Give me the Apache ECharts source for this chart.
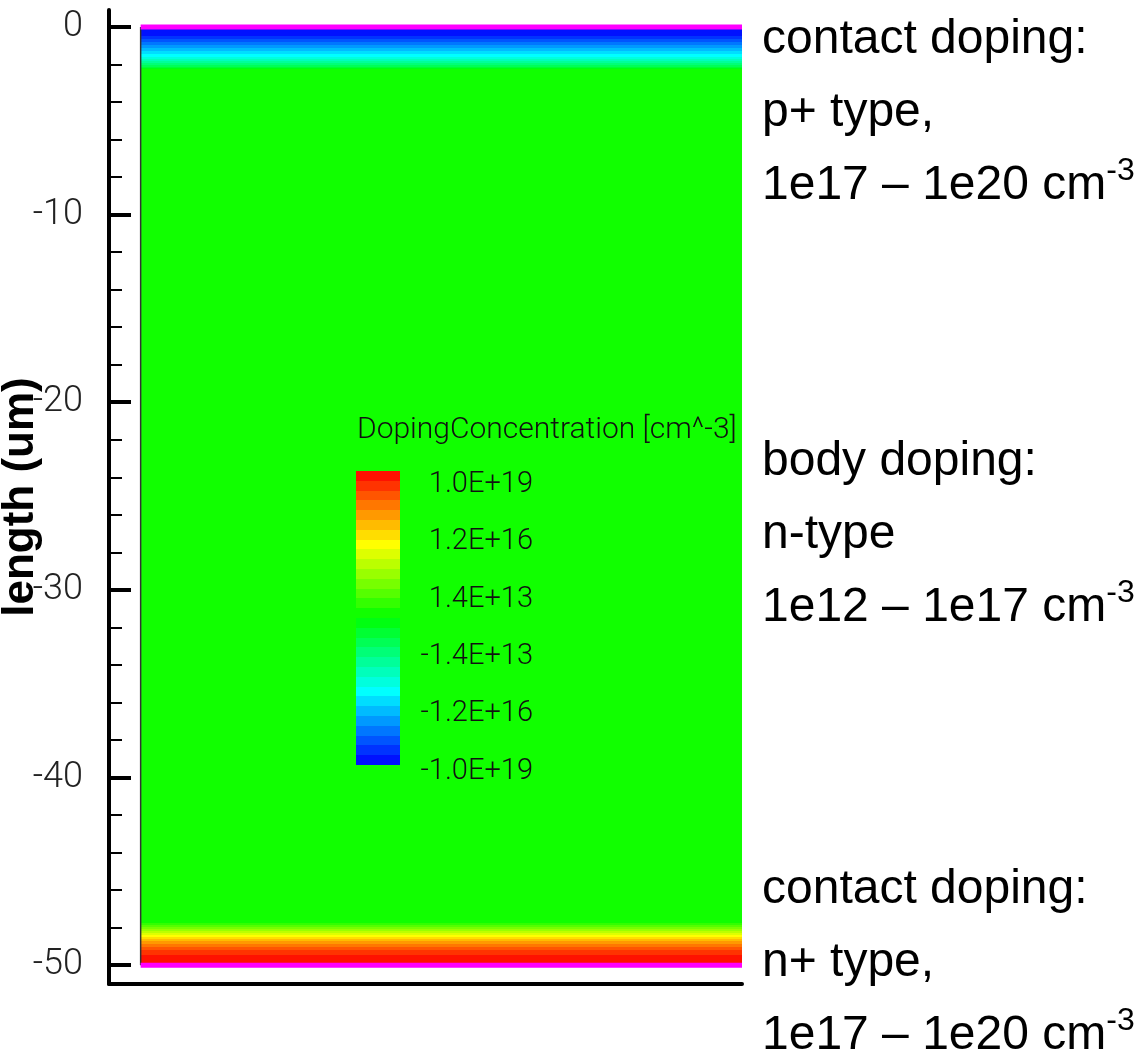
<!DOCTYPE html>
<html>
<head>
<meta charset="utf-8">
<title>Doping concentration</title>
<script src="https://cdn.jsdelivr.net/npm/echarts@6/dist/echarts.min.js"></script>
<style>
html, body {margin: 0; padding: 0; background: #fff;}
#container {width: 1147px; height: 1056px;}
</style>
</head>
<body>
<div id="container"></div>
<script>
// depth axis (um)
var yTicks = [0, -10, -20, -30, -40, -50];
var yMinorTicks = [-2, -4, -6, -8, -12, -14, -16, -18, -22, -24, -26, -28,
                   -32, -34, -36, -38, -42, -44, -46, -48];

// device width and contact positions (um)
var deviceX = [0, 19];
var contactDepth = [0, -50];

// doping profile: layer edges (um) and net doping of each layer (cm^-3, negative = p-type)
var layerEdges = [0, -0.48, -0.64, -0.80, -0.96, -1.12, -1.28, -1.44, -1.60, -1.71,
                  -1.81, -1.92, -2.03, -2.13, -2.19, -2.24,
                  -47.76, -47.87, -47.97, -48.08, -48.19, -48.29, -48.40, -48.51,
                  -48.61, -48.72, -48.88, -49.04, -49.20, -49.47, -50];
var layerDoping = [-8.7e18, -2.8e18, -8.7e17, -2.8e17, -8.7e16, -2.8e16, -8.7e15, -2.8e15,
                   -8.7e14, -2.8e14, -8.7e13, -2.8e13, -8.7e12, -2.8e12, -8.7e11,
                   1e12,
                   2.8e12, 8.7e12, 2.8e13, 8.7e13, 2.8e14, 8.7e14, 2.8e15, 8.7e15,
                   2.8e16, 8.7e16, 2.8e17, 8.7e17, 2.8e18, 8.7e18];

// contour legend levels and labels (cm^-3)
var legendLevels = [-8.7e18, -2.8e18, -8.7e17, -2.8e17, -8.7e16, -2.8e16, -8.7e15, -2.8e15,
                    -8.7e14, -2.8e14, -8.7e13, -2.8e13, -8.7e12, -2.8e12, -8.7e11,
                    8.7e11, 2.8e12, 8.7e12, 2.8e13, 8.7e13, 2.8e14, 8.7e14, 2.8e15,
                    8.7e15, 2.8e16, 8.7e16, 2.8e17, 8.7e17, 2.8e18, 8.7e18];
var legendTicks = [1.0e19, 1.2e16, 1.4e13, -1.4e13, -1.2e16, -1.0e19];
var legendTitle = 'DopingConcentration [cm^-3]';

// notes on the right
var noteTitles = ['contact doping:', 'body doping:', 'contact doping:'];
var noteTypes = ['p+ type,', 'n-type', 'n+ type,'];
var noteRanges = ['1e17 \u2013 1e20', '1e12 \u2013 1e17', '1e17 \u2013 1e20'];

var dom = document.getElementById('container');
var myChart = echarts.init(dom);

// signed log scale used by the contour legend
var LOG0 = 11.68, STEP = 0.5;
function signedLog(n) {
    var s = Math.max(0, Math.log10(Math.abs(n)) - LOG0);
    return n < 0 ? -s : s;
}
function toLevel(n) {   // flood bands
    return (Math.floor(signedLog(n) / STEP) + 0.5) * STEP;
}

var layerData = [];
for (var i = 0; i < layerDoping.length; i++) {
    layerData.push([layerEdges[i], layerEdges[i + 1], toLevel(layerDoping[i])]);
}
var legendData = legendLevels.map(function (d) {
    var lv = toLevel(d);
    return [lv + STEP / 2, lv - STEP / 2, lv];
});
var legendTickValues = legendTicks.map(signedLog);

function renderLayer(params, api) {
    var p0 = api.coord([deviceX[0], api.value(0)]);
    var p1 = api.coord([deviceX[1], api.value(1)]);
    var y0 = Math.round(p0[1]), y1 = Math.round(p1[1]);
    return {
        type: 'rect',
        shape: {x: p0[0], y: y0, width: p1[0] - p0[0], height: y1 - y0},
        style: {fill: api.visual('color')}
    };
}
function renderLegend(params, api) {
    var cs = params.coordSys;
    var y0 = Math.round(api.coord([0, api.value(0)])[1]);
    var y1 = Math.round(api.coord([0, api.value(1)])[1]);
    return {
        type: 'rect',
        shape: {x: cs.x, y: y0, width: cs.width, height: y1 - y0},
        style: {fill: api.visual('color')}
    };
}

var thinFont = 'Roboto';
var noteFont = '"Liberation Sans", Arial, sans-serif';

var graphics = [{
    type: 'text', x: 357, y: 430, z: 100,
    style: {text: legendTitle, fontFamily: thinFont, fontWeight: 300, fontSize: 30,
            fill: '#111', align: 'left', verticalAlign: 'middle'}
}];
var noteTop = [40, 462, 890];
for (var k = 0; k < noteTitles.length; k++) {
    graphics.push({
        type: 'text', x: 762, y: noteTop[k], z: 100,
        style: {text: noteTitles[k], fontFamily: noteFont, fontSize: 48, fill: '#000',
                align: 'left', verticalAlign: 'middle'}
    });
    graphics.push({
        type: 'text', x: 762, y: noteTop[k] + 73, z: 100,
        style: {text: noteTypes[k], fontFamily: noteFont, fontSize: 48, fill: '#000',
                align: 'left', verticalAlign: 'middle'}
    });
    graphics.push({
        type: 'text', x: 762, y: noteTop[k] + 146, z: 100,
        style: {
            text: '{m|' + noteRanges[k] + ' cm}{s|-3}',
            align: 'left', verticalAlign: 'middle',
            rich: {
                m: {fontFamily: noteFont, fontSize: 48, lineHeight: 62, fill: '#000'},
                s: {fontFamily: noteFont, fontSize: 32, lineHeight: 32, verticalAlign: 'top', fill: '#000'}
            }
        }
    });
}

var option = {
    animation: false,
    backgroundColor: '#fff',
    grid: [
        {left: 109, top: 10, width: 633, height: 974, outerBoundsMode: 'none', containLabel: false},
        {left: 356, top: 471, width: 44, height: 294, outerBoundsMode: 'none', containLabel: false}
    ],
    xAxis: [
        {
            type: 'value', gridIndex: 0, min: -1, max: 19,
            axisLine: {show: true, onZero: false, lineStyle: {color: '#000', width: 4}},
            axisTick: {show: false}, axisLabel: {show: false}, splitLine: {show: false}
        },
        {type: 'value', gridIndex: 1, min: 0, max: 1, show: false}
    ],
    yAxis: [
        {
            type: 'value', gridIndex: 0, min: -51, max: 0.9, position: 'left',
            name: 'length (um)', nameLocation: 'middle', nameGap: 66, nameMoveOverlap: false,
            nameTextStyle: {fontFamily: noteFont, fontWeight: 'bold', fontSize: 44, color: '#000'},
            axisLine: {show: true, onZero: false, lineStyle: {color: '#000', width: 4}},
            axisTick: {show: true, inside: true, length: 22, customValues: yTicks,
                       lineStyle: {color: '#000', width: 4}},
            axisLabel: {show: true, customValues: yTicks, margin: 26, fontFamily: thinFont,
                        fontWeight: 300, fontSize: 36, color: '#222'},
            splitLine: {show: false}
        },
        {
            type: 'value', gridIndex: 0, min: -51, max: 0.9, position: 'left',
            axisLine: {show: false, onZero: false},
            axisTick: {show: true, inside: true, length: 13, customValues: yMinorTicks,
                       lineStyle: {color: '#000', width: 2}},
            axisLabel: {show: false}, splitLine: {show: false}
        },
        {
            type: 'value', gridIndex: 1, min: -7.5, max: 7.5, position: 'right', z: 10,
            axisLine: {show: false}, axisTick: {show: false}, splitLine: {show: false},
            axisLabel: {
                show: true, customValues: legendTickValues, align: 'right', margin: 133,
                verticalAlign: 'top', lineHeight: 20,
                fontFamily: thinFont, fontWeight: 300, fontSize: 29, color: '#111',
                formatter: function (v) {
                    var best = 0;
                    for (var j = 1; j < legendTickValues.length; j++) {
                        if (Math.abs(legendTickValues[j] - v) < Math.abs(legendTickValues[best] - v)) best = j;
                    }
                    return legendTicks[best].toExponential(1).toUpperCase();
                }
            }
        }
    ],
    visualMap: {
        type: 'continuous', show: false, seriesIndex: [0, 1], dimension: 2,
        min: -7.5, max: 7.5,
        inRange: {color: ['#0000ff', '#00ffff', '#00ff00', '#ffff00', '#ff0000']}
    },
    series: [
        {
            type: 'custom', name: 'doping', xAxisIndex: 0, yAxisIndex: 0,
            renderItem: renderLayer, data: layerData, silent: true
        },
        {
            type: 'custom', name: 'legend', xAxisIndex: 1, yAxisIndex: 2,
            renderItem: renderLegend, data: legendData, silent: true, z: 3
        },
        {
            type: 'line', xAxisIndex: 0, yAxisIndex: 0, symbol: 'none', silent: true,
            lineStyle: {color: '#333', width: 1.5},
            data: [[deviceX[0], contactDepth[0]], [deviceX[0], contactDepth[1]]]
        },
        {
            type: 'line', xAxisIndex: 0, yAxisIndex: 0, symbol: 'none', silent: true,
            lineStyle: {color: '#ff00ff', width: 5},
            data: [[deviceX[0], contactDepth[0]], [deviceX[1], contactDepth[0]]]
        },
        {
            type: 'line', xAxisIndex: 0, yAxisIndex: 0, symbol: 'none', silent: true,
            lineStyle: {color: '#ff00ff', width: 5},
            data: [[deviceX[0], contactDepth[1]], [deviceX[1], contactDepth[1]]]
        }
    ],
    graphic: graphics
};

if (option && typeof option === 'object') {
    myChart.setOption(option, true);
}
</script>
</body>
</html>
